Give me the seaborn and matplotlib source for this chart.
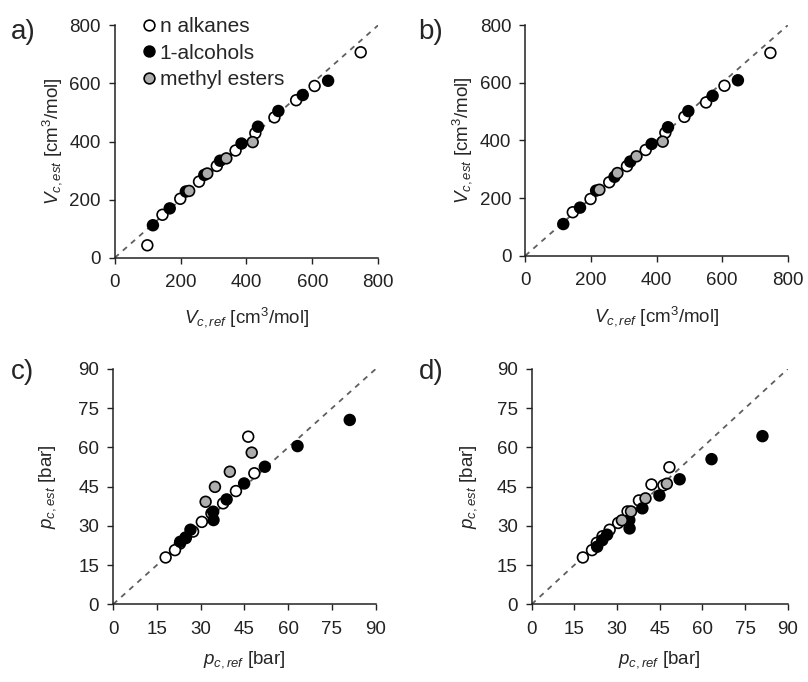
import numpy as np
import pandas as pd
import seaborn as sns
import matplotlib.pyplot as plt

# ---- data ----
groups = ['n alkanes', '1-alcohols', 'methyl esters']

# critical volume, reference values [cm3/mol]
vc_ref_alk = [99, 145, 199, 256, 310, 367, 427, 485, 551, 607, 747]
vc_ref_alc = [116, 167, 216, 272, 320, 385, 435, 497, 571, 648]
vc_ref_est = [226, 281, 339, 419]

# panel a estimates
vc_a_alk = [43, 148, 203, 262, 316, 369, 429, 483, 542, 591, 707]
vc_a_alc = [112, 170, 228, 285, 334, 393, 451, 505, 560, 609]
vc_a_est = [230, 290, 342, 398]

# panel b estimates (methane not visible)
vc_b_alk = [None, 151, 197, 255, 311, 367, 427, 482, 532, 590, 704]
vc_b_alc = [110, 167, 226, 274, 327, 388, 446, 502, 555, 609]
vc_b_est = [229, 287, 345, 396]

# critical pressure, reference values [bar]
pc_ref_alk = [46.3, 48.4, 42.1, 37.7, 33.7, 30.4, 27.4, 24.9, 22.9, 21.2, 18.0]
pc_ref_alc = [81.1, 63.2, 52.0, 44.9, 38.9, 34.3, 34.4, 26.5, 24.8, 23.0]
pc_ref_est = [47.5, 40.0, 34.9, 31.7]

# panel c estimates
pc_c_alk = [64.1, 50.1, 43.3, 38.6, 34.8, 31.5, 27.8, 25.3, 23.2, 20.7, 17.9]
pc_c_alc = [70.5, 60.5, 52.6, 46.2, 40.1, 35.4, 32.2, 28.5, 25.5, 23.9]
pc_c_est = [58.0, 50.7, 44.9, 39.2]

# panel d estimates
pc_d_alk = [45.5, 52.4, 45.8, 39.7, 35.5, 31.1, 28.5, 26.0, 23.5, 20.7, 17.9]
pc_d_alc = [64.3, 55.5, 47.8, 41.6, 36.7, 32.2, 29.0, 26.6, 24.5, 22.0]
pc_d_est = [46.1, 40.5, 35.5, 32.1]

colors = {'n alkanes': 'white', '1-alcohols': 'black', 'methyl esters': '#adadad'}


def make_df(ref, est):
    rows = []
    for g, r, e in zip(groups, ref, est):
        for xr, ye in zip(r, e):
            if ye is not None:
                rows.append((g, xr, ye))
    return pd.DataFrame(rows, columns=['group', 'ref', 'est'])


sns.set_style('white')
plt.rcParams['font.family'] = ['Liberation Sans', 'DejaVu Sans']
plt.rcParams['mathtext.fontset'] = 'custom'
plt.rcParams['mathtext.rm'] = 'Liberation Sans'
plt.rcParams['mathtext.it'] = 'Liberation Sans:italic'

fig = plt.figure(figsize=(8.08, 6.82), dpi=100)
axes = {
    'a': fig.add_axes([0.142, 0.622, 0.326, 0.341]),
    'b': fig.add_axes([0.650, 0.625, 0.325, 0.338]),
    'c': fig.add_axes([0.140, 0.114, 0.325, 0.345]),
    'd': fig.add_axes([0.658, 0.114, 0.317, 0.345]),
}

panels = {
    'a': (make_df([vc_ref_alk, vc_ref_alc, vc_ref_est], [vc_a_alk, vc_a_alc, vc_a_est]), 'V'),
    'b': (make_df([vc_ref_alk, vc_ref_alc, vc_ref_est], [vc_b_alk, vc_b_alc, vc_b_est]), 'V'),
    'c': (make_df([pc_ref_alk, pc_ref_alc, pc_ref_est], [pc_c_alk, pc_c_alc, pc_c_est]), 'p'),
    'd': (make_df([pc_ref_alk, pc_ref_alc, pc_ref_est], [pc_d_alk, pc_d_alc, pc_d_est]), 'p'),
}

# label positions in axes coords (x of ylabel, y of xlabel)
ylab_x = {'a': -0.24, 'b': -0.24, 'c': -0.25, 'd': -0.245}
xlab_y = {'a': -0.255, 'b': -0.26, 'c': -0.234, 'd': -0.234}

fs = 13.5
for key, ax in axes.items():
    df, kind = panels[key]
    lim = 800 if kind == 'V' else 90
    ax.plot([0, lim], [0, lim], ls=(0, (3, 3)), color='#5f5f5f', lw=1.3, zorder=1)
    sns.scatterplot(data=df, x='ref', y='est', hue='group', palette=colors,
                    edgecolor='black', linewidth=1.2, s=60, ax=ax, zorder=3,
                    legend=(key == 'a'))
    ax.set_xlim(0, lim)
    ax.set_ylim(0, lim)
    if kind == 'V':
        ticks = np.arange(0, 801, 200)
        ax.set_xlabel(r'$V_{c,ref}$ [cm$^3$/mol]', fontsize=fs)
        ax.set_ylabel(r'$V_{c,est}$ [cm$^3$/mol]', fontsize=fs)
    else:
        ticks = np.arange(0, 91, 15)
        ax.set_xlabel(r'$p_{c,ref}$ [bar]', fontsize=fs)
        ax.set_ylabel(r'$p_{c,est}$ [bar]', fontsize=fs)
    ax.xaxis.label.set_va('center')
    ax.yaxis.label.set_va('center')
    ax.xaxis.set_label_coords(0.5, xlab_y[key])
    ax.yaxis.set_label_coords(ylab_x[key], 0.5)
    ax.set_xticks(ticks)
    ax.set_yticks(ticks)
    ax.tick_params(direction='out', length=4, width=1, labelsize=fs,
                   colors='#222222', left=True, bottom=True)
    ax.tick_params(axis='x', pad=8)
    ax.tick_params(axis='y', pad=6)
    for s in ['top', 'right']:
        ax.spines[s].set_visible(False)
    for s in ['left', 'bottom']:
        ax.spines[s].set_color('#222222')
        ax.spines[s].set_linewidth(1.1)

sns.move_legend(axes['a'], 'upper left', bbox_to_anchor=(0.02, 1.07), title=None,
                frameon=False, fontsize=15, handletextpad=-0.5,
                labelspacing=0.35, borderaxespad=0, markerscale=1.0)

fig.text(0.014, 0.953, 'a)', fontsize=20, va='center')
fig.text(0.518, 0.953, 'b)', fontsize=20, va='center')
fig.text(0.014, 0.455, 'c)', fontsize=20, va='center')
fig.text(0.518, 0.455, 'd)', fontsize=20, va='center')

fig.savefig('out.png', dpi=100)
